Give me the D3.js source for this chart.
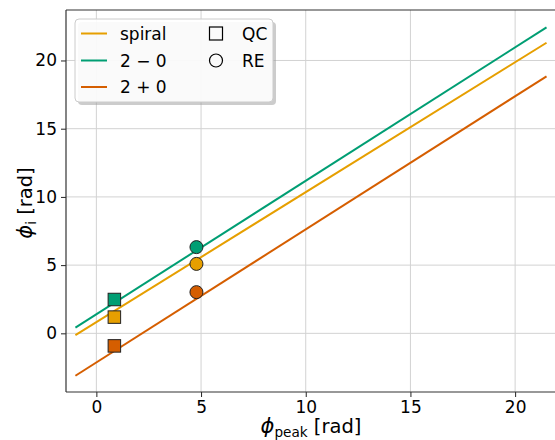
<!DOCTYPE html>
<html><head><meta charset="utf-8">
<script src="https://cdn.jsdelivr.net/npm/d3@7"></script>
<style>
html,body{margin:0;padding:0;background:#fff;}
svg text{font-family:"DejaVu Sans",sans-serif;fill:#000;}
</style></head>
<body><svg id="c" width="555" height="440"></svg>
<script>
// ---- data ----
const lineX = [-1, 21.5];
const seriesNames = ["spiral", "2 \u2212 0", "2 + 0"];
const seriesColors = ["#E69F00", "#009E73", "#D55E00"];
const lineSpiral = [-0.13, 21.30];
const lineTwoMinus = [0.42, 22.43];
const lineTwoPlus = [-3.11, 18.84];
const qcX = 0.86;
const qcY = [1.19, 2.48, -0.92];   // spiral, 2-0, 2+0
const reX = 4.78;
const reY = [5.09, 6.32, 3.02];
const xTicks = [0, 5, 10, 15, 20];
const yTicks = [0, 5, 10, 15, 20];

const svg = d3.select("#c");
const L = 66, T = 10, B = 392;
const x = d3.scaleLinear().domain([-1.45, 22.0]).range([L, 557]);
const y = d3.scaleLinear().domain([-4.3, 23.7]).range([B, T]);

const g = svg.append("g");
// grid
g.selectAll(".gx").data(xTicks).enter().append("line")
  .attr("x1", d => x(d)).attr("x2", d => x(d)).attr("y1", T).attr("y2", B)
  .attr("stroke", "#d2d2d2").attr("stroke-width", 1);
g.selectAll(".gy").data(yTicks).enter().append("line")
  .attr("x1", L).attr("x2", 557).attr("y1", d => y(d)).attr("y2", d => y(d))
  .attr("stroke", "#d2d2d2").attr("stroke-width", 1);

// axes
const xAxis = d3.axisBottom(x).tickValues(xTicks).tickSize(5).tickPadding(4).tickFormat(d3.format("d"));
const yAxis = d3.axisLeft(y).tickValues(yTicks).tickSize(5).tickPadding(4).tickFormat(d3.format("d"));
const gx = svg.append("g").attr("transform", `translate(0,${B})`).call(xAxis);
const gy = svg.append("g").attr("transform", `translate(${L},0)`).call(yAxis);
[gx, gy].forEach(a => {
  a.select(".domain").remove();
  a.selectAll(".tick line").attr("stroke", "#222").attr("stroke-width", 1);
  a.selectAll(".tick text").attr("font-size", 17).attr("font-family", "DejaVu Sans").attr("fill", "#000");
});
// spines
svg.append("line").attr("x1", L).attr("x2", L).attr("y1", T).attr("y2", B).attr("stroke", "#333").attr("stroke-width", 1.2);
svg.append("line").attr("x1", L).attr("x2", 557).attr("y1", B).attr("y2", B).attr("stroke", "#333").attr("stroke-width", 1.2);
svg.append("line").attr("x1", L).attr("x2", 557).attr("y1", T).attr("y2", T).attr("stroke", "#333").attr("stroke-width", 1.2);

// lines
const lines = [lineSpiral, lineTwoMinus, lineTwoPlus];
const lg = d3.line().x(d => x(d[0])).y(d => y(d[1]));
lines.forEach((ys, i) => {
  svg.append("path").datum(lineX.map((xv, j) => [xv, ys[j]]))
    .attr("d", lg).attr("fill", "none").attr("stroke", seriesColors[i]).attr("stroke-width", 2);
});

// markers
const sq = 12.5;
qcY.forEach((v, i) => {
  svg.append("rect").attr("x", x(qcX) - sq/2).attr("y", y(v) - sq/2).attr("width", sq).attr("height", sq)
    .attr("fill", seriesColors[i]).attr("stroke", "#222").attr("stroke-width", 1);
});
reY.forEach((v, i) => {
  svg.append("circle").attr("cx", x(reX)).attr("cy", y(v)).attr("r", 6.5)
    .attr("fill", seriesColors[i]).attr("stroke", "#222").attr("stroke-width", 1);
});

// axis labels
const xl = svg.append("text").attr("x", 311).attr("y", 433).attr("text-anchor", "middle").attr("font-size", 19.5);
xl.append("tspan").attr("font-style", "italic").attr("font-size", 21).text("\u03D5");
xl.append("tspan").attr("font-size", 13.6).attr("dy", 4).text("peak");
xl.append("tspan").attr("dy", -4).text(" [rad]");

const yl = svg.append("text").attr("transform", "translate(32,203) rotate(-90)").attr("text-anchor", "middle").attr("font-size", 19.5);
yl.append("tspan").attr("font-style", "italic").attr("font-size", 21).text("\u03D5");
yl.append("tspan").attr("font-size", 13.6).attr("dy", 4).text("i");
yl.append("tspan").attr("dy", -4).text(" [rad]");

// legend
const lgX = 75, lgY = 19, lgW = 198, lgH = 83;
svg.append("rect").attr("x", lgX + 3).attr("y", lgY + 3).attr("width", lgW).attr("height", lgH).attr("rx", 4)
  .attr("fill", "#999").attr("opacity", 0.5);
svg.append("rect").attr("x", lgX).attr("y", lgY).attr("width", lgW).attr("height", lgH).attr("rx", 4)
  .attr("fill", "#fff").attr("fill-opacity", 0.9).attr("stroke", "#cccccc").attr("stroke-width", 1);
const rowY = [33.5, 60.5, 87];
seriesNames.forEach((n, i) => {
  svg.append("line").attr("x1", 81).attr("x2", 107).attr("y1", rowY[i]).attr("y2", rowY[i])
    .attr("stroke", seriesColors[i]).attr("stroke-width", 2);
  svg.append("text").attr("x", 120).attr("y", rowY[i] + 6).attr("font-size", 17).text(n);
});
svg.append("rect").attr("x", 216 - 6.5).attr("y", rowY[0] - 6.5).attr("width", 13).attr("height", 13)
  .attr("fill", "none").attr("stroke", "#000").attr("stroke-width", 1.2);
svg.append("text").attr("x", 242).attr("y", rowY[0] + 6).attr("font-size", 17).text("QC");
svg.append("circle").attr("cx", 216).attr("cy", rowY[1]).attr("r", 6.5)
  .attr("fill", "none").attr("stroke", "#000").attr("stroke-width", 1.2);
svg.append("text").attr("x", 242).attr("y", rowY[1] + 6).attr("font-size", 17).text("RE");
</script></body></html>
